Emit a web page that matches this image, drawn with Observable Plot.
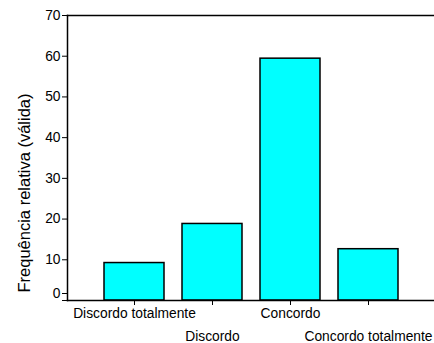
<!DOCTYPE html>
<html>
<head>
<meta charset="utf-8">
<script src="https://cdn.jsdelivr.net/npm/d3@7"></script>
<script src="https://cdn.jsdelivr.net/npm/@observablehq/plot@0.6"></script>
<style>
  html, body { margin: 0; padding: 0; background: #fff; }
  svg { display: block; }
</style>
</head>
<body>
<div id="chart"></div>
<script>
const categories = ["Discordo totalmente", "Discordo", "Concordo", "Concordo totalmente"];
const values = [9.2, 18.8, 59.4, 12.6];
const yTicks = [0, 10, 20, 30, 40, 50, 60, 70];
const yLabel = "Frequência relativa (válida)";

const data = categories.map((c, i) => ({cat: c, value: values[i], i}));
const upper = data.filter(d => d.i % 2 === 0);
const lower = data.filter(d => d.i % 2 === 1);

const chart = Plot.plot({
  width: 434,
  height: 343,
  marginTop: 15,
  marginBottom: 43,
  marginLeft: 67,
  marginRight: 0,
  style: {fontFamily: "'Liberation Sans', Arial, sans-serif", fontSize: "13.8px", color: "#000", background: "#fff", overflow: "hidden"},
  x: {domain: categories, range: [67, 435], paddingInner: 0.23, paddingOuter: 0.46},
  y: {domain: [0, 70]},
  marks: [
    Plot.barY(data, {x: "cat", y: "value", fill: "#00ffff", stroke: "#000", strokeWidth: 1.5}),
    Plot.frame({anchor: "left", stroke: "#000", strokeWidth: 1.5}),
    Plot.frame({anchor: "top", stroke: "#000", strokeWidth: 1.5}),
    Plot.frame({anchor: "bottom", stroke: "#000", strokeWidth: 1.5}),
    Plot.axisY({ticks: yTicks, tickSize: 5, tickPadding: 2, tickFormat: d => d === 0 ? "" : d, label: null, fontSize: 13.8}),
    Plot.axisY({ticks: [0], tickSize: 5, tickPadding: 2, dy: -7, label: null, fontSize: 13.8}),
    Plot.axisX({tickSize: 5, tickFormat: () => "", label: null}),
    Plot.text(upper, {x: "cat", text: "cat", frameAnchor: "bottom", dy: 13, lineAnchor: "middle", fontSize: 13.8}),
    Plot.text(lower, {x: "cat", text: "cat", frameAnchor: "bottom", dy: 36, lineAnchor: "middle", fontSize: 13.8}),
    Plot.text([yLabel], {text: d => d, frameAnchor: "left", textAnchor: "middle", dx: -43, dy: 35, rotate: -90, fontSize: 16.5, lineAnchor: "middle"})
  ]
});
document.getElementById("chart").appendChild(chart);
</script>
</body>
</html>
